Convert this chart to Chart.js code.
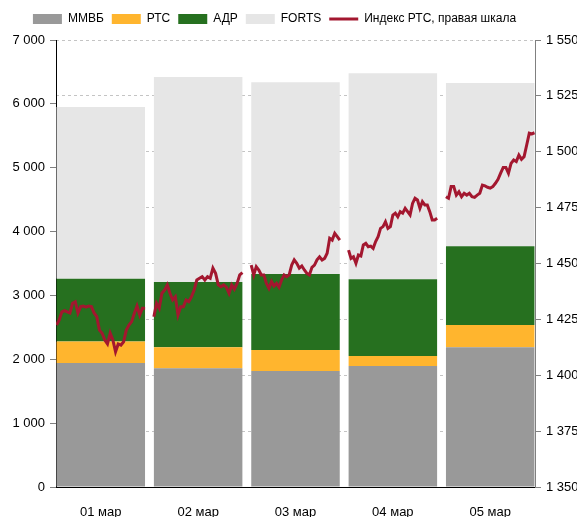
<!DOCTYPE html>
<html>
<head>
<meta charset="utf-8">
<script src="https://cdn.jsdelivr.net/npm/chart.js@4/dist/chart.umd.min.js"></script>
<style>
    html, body { margin: 0; padding: 0; background: #fff; }
    #wrap { width: 579px; height: 517px; }
</style>
</head>
<body>
<div id="wrap"><canvas id="myChart"></canvas></div>
<script>
// Trading volume by exchange (left axis) and RTS index intraday (right axis)
const days = ['01 мар', '02 мар', '03 мар', '04 мар', '05 мар'];
const micex = [1940, 1860, 1815, 1895, 2190];
const rts = [340, 330, 330, 155, 345];
const adr = [980, 1020, 1190, 1205, 1235];
const forts = [2690, 3210, 3005, 3225, 2555];

// RTS index intraday readings, one list per day
const index01 = [1422.5, 1424.7, 1428.4, 1428.9, 1428.4, 1427.9, 1432.2, 1432.9, 1427.9, 1430.7, 1431.0, 1430.5,
    1431.0, 1430.7, 1427.9, 1426.2, 1420.2, 1418.8, 1415.8, 1414.0, 1418.8, 1415.8, 1410.5, 1414.0, 1413.5,
    1415.0, 1420.2, 1422.5, 1424.0, 1427.7, 1431.0, 1427.0, 1430.0, 1430.0];
const index02 = [1426.2, 1432.2, 1430.0, 1436.7, 1438.1, 1440.4, 1436.7, 1433.7, 1435.1, 1427.0, 1430.7, 1430.7,
    1433.7, 1432.9, 1435.1, 1438.1, 1442.6, 1443.4, 1444.1, 1442.6, 1444.1, 1443.4, 1447.9, 1445.6, 1440.4,
    1439.6, 1440.4, 1439.4, 1436.7, 1440.4, 1438.5, 1441.1, 1444.9, 1445.9];
const index03 = [1449.3, 1444.9, 1448.6, 1447.1, 1444.9, 1444.9, 1441.1, 1438.9, 1441.9, 1439.9, 1441.1, 1439.4,
    1442.6, 1444.9, 1444.1, 1444.9, 1449.3, 1451.6, 1450.1, 1447.9, 1448.9, 1447.1, 1445.6, 1444.9, 1448.3,
    1449.3, 1451.6, 1453.0, 1451.6, 1452.3, 1454.6, 1461.3, 1460.5, 1463.5, 1462.0, 1460.5];
const index04 = [1456.0, 1452.3, 1453.0, 1450.1, 1453.8, 1453.4, 1458.3, 1459.0, 1457.5, 1457.8, 1456.8, 1459.8,
    1462.0, 1465.7, 1466.5, 1468.7, 1465.7, 1466.5, 1471.7, 1472.5, 1470.9, 1473.2, 1472.5, 1474.7, 1473.2,
    1471.7, 1476.9, 1479.2, 1478.4, 1474.7, 1477.7, 1476.2, 1476.2, 1473.2, 1469.5, 1469.5, 1470.2];
const index05 = [1479.9, 1479.2, 1484.4, 1484.4, 1480.6, 1482.1, 1479.9, 1481.4, 1480.6, 1481.4, 1479.9, 1479.6,
    1480.6, 1481.4, 1485.1, 1484.7, 1484.1, 1483.7, 1484.4, 1485.9, 1487.7, 1490.4, 1493.0, 1493.0, 1490.4,
    1494.8, 1496.3, 1495.6, 1498.5, 1496.6, 1497.8, 1503.0, 1508.3, 1508.0, 1508.5];

// bars sit on a numeric x axis (day index) so they can reach the axis lines
const toPoints = vals => vals.map((v, i) => ({ x: i, y: v }));

// Build line points: each day's readings spread across its bar, gap between days
function buildIndexPoints() {
    const perDay = [index01, index02, index03, index04, index05];
    const pts = [];
    perDay.forEach((vals, d) => {
        vals.forEach((v, k) => {
            pts.push({ x: d - 0.455 + 0.91 * k / (vals.length - 1), y: v });
        });
        pts.push({ x: d + 0.5, y: null });
    });
    return pts;
}

const fmt = v => String(v).replace(/\B(?=(\d{3})+(?!\d))/g, ' ');
const font = { family: "'Liberation Sans', Arial, sans-serif", size: 13 };

// push the plot area below the legend and nudge the legend a bit left
const legendTweak = {
    id: 'legendTweak',
    beforeInit(chart) {
        const fit = chart.legend.fit;
        chart.legend.fit = function () {
            fit.bind(chart.legend)();
            this.height += 5;
        };
    },
    afterUpdate(chart) {
        chart.legend.right -= 28;
    }
};

const ctx = document.getElementById('myChart');
const myChart = new Chart(ctx, {
    type: 'bar',
    data: {
        datasets: [
            { label: 'ММВБ', data: toPoints(micex), backgroundColor: '#999999', order: 1 },
            { label: 'РТС', data: toPoints(rts), backgroundColor: '#FFB52E', order: 1 },
            { label: 'АДР', data: toPoints(adr), backgroundColor: '#26701F', order: 1 },
            { label: 'FORTS', data: toPoints(forts), backgroundColor: '#E6E6E6', order: 1 },
            {
                type: 'line',
                label: 'Индекс РТС, правая шкала',
                data: buildIndexPoints(),
                yAxisID: 'y2',
                borderColor: '#A3172F',
                backgroundColor: '#A3172F',
                borderWidth: 3,
                pointRadius: 0,
                spanGaps: false,
                tension: 0,
                order: 0
            }
        ]
    },
    options: {
        responsive: true,
        maintainAspectRatio: false,
        animation: false,
        parsing: true,
        layout: { padding: { top: 5, right: 2, left: 0, bottom: 0 } },
        datasets: {
            bar: { grouped: false, barPercentage: 0.909, categoryPercentage: 1, borderWidth: 0 }
        },
        scales: {
            x: {
                type: 'linear',
                stacked: true,
                offset: false,
                min: -0.46,
                max: 4.46,
                grid: { display: false },
                border: { display: true, color: '#000', width: 1 },
                afterBuildTicks: s => { s.ticks = days.map((d, i) => ({ value: i })); },
                ticks: { color: '#000', font: font, padding: 10, autoSkip: false, maxRotation: 0,
                    callback: v => days[v] },
                afterFit: s => { s.height = 30; }
            },
            y: {
                stacked: true,
                position: 'left',
                min: 0,
                max: 7000,
                ticks: { stepSize: 1000, color: '#000', font: font, padding: 5, callback: v => fmt(v) },
                grid: { drawOnChartArea: false, tickLength: 6, tickColor: '#808080' },
                border: { color: '#000', width: 1 },
                afterFit: s => { s.width = 56; }
            },
            y2: {
                position: 'right',
                min: 1350,
                max: 1550,
                ticks: { stepSize: 25, color: '#000', font: font, padding: 5, callback: v => fmt(v) },
                grid: {
                    drawOnChartArea: true,
                    tickLength: 6,
                    tickColor: '#808080',
                    color: c => (c.tick && c.tick.value === 1350) ? 'rgba(0,0,0,0)' : '#C4C4C4'
                },
                border: { color: '#808080', width: 1, dash: [3, 3] },
                afterFit: s => { s.width = 42; }
            }
        },
        plugins: {
            legend: {
                position: 'top',
                labels: {
                    color: '#000',
                    font: { family: "'Liberation Sans', Arial, sans-serif", size: 12 },
                    usePointStyle: true,
                    pointStyleWidth: 29,
                    boxHeight: 10,
                    padding: 8,
                    sort: (a, b) => a.datasetIndex - b.datasetIndex,
                    generateLabels: chart => {
                        const items = Chart.defaults.plugins.legend.labels.generateLabels(chart);
                        items.forEach(it => {
                            if (it.datasetIndex === 4) {
                                it.pointStyle = 'line';
                                it.lineWidth = 3;
                            } else {
                                it.pointStyle = 'rect';
                                it.lineWidth = 0;
                            }
                        });
                        return items;
                    }
                }
            },
            tooltip: { enabled: false }
        }
    },
    plugins: [legendTweak]
});
</script>
</body>
</html>
